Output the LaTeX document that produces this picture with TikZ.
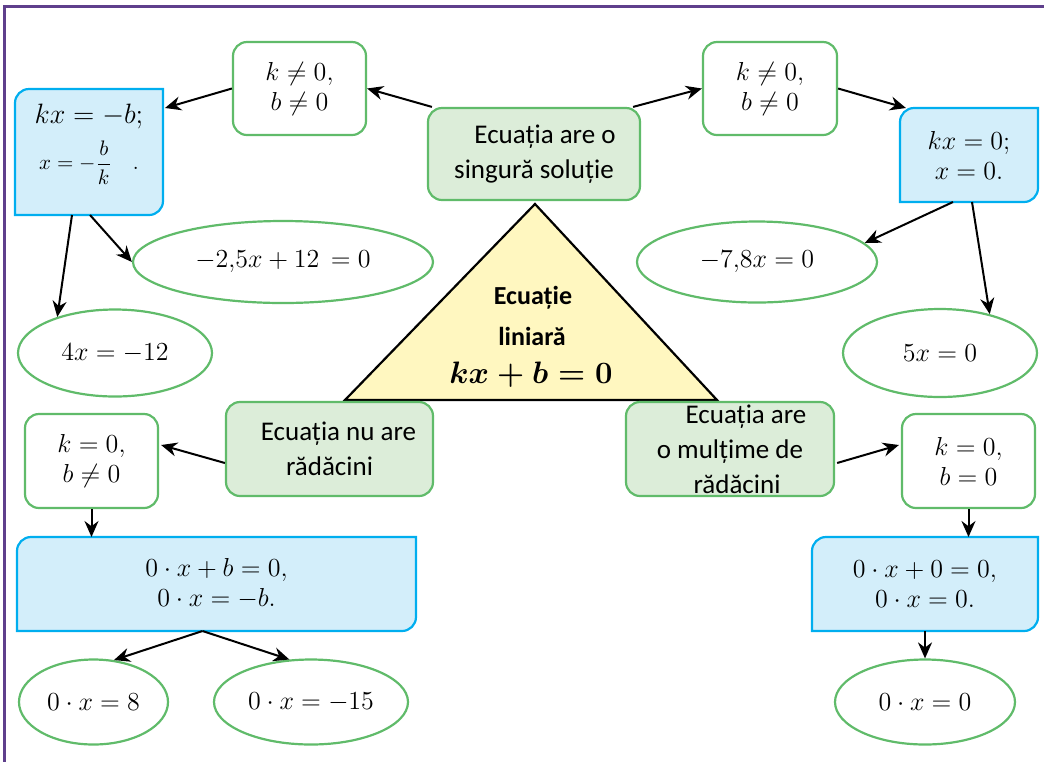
\RequirePackage{fix-cm}
\documentclass[tikz,border=0pt]{standalone}
\usepackage{amsmath}
\usepackage{fontspec}
\newfontfamily\carl{Carlito}
\usetikzlibrary{shapes.geometric,arrows.meta,calc,backgrounds}
\definecolor{gborder}{RGB}{96,187,106}
\definecolor{gfill}{RGB}{220,237,217}
\definecolor{bborder}{RGB}{0,174,239}
\definecolor{bfill}{RGB}{211,238,250}
\definecolor{tfill}{RGB}{255,247,192}
\definecolor{framecol}{RGB}{95,63,140}
% blue box: top-left and bottom-right corners rounded
\newcommand{\halfbox}[1]{%
  \draw[bluebox] ($(#1.north west)+(0,-7pt)$) arc[start angle=180,end angle=90,radius=7pt]
    -- (#1.north east) -- ($(#1.south east)+(0,7pt)$) arc[start angle=0,end angle=-90,radius=7pt]
    -- (#1.south west) -- cycle;}

\begin{document}
\begin{tikzpicture}[x=0.5pt,y=-0.5pt,
    every node/.style={font=\fontsize{13}{15}\selectfont, align=center},
    whitebox/.style={draw=gborder, line width=1.1pt, rounded corners=7pt, fill=white, inner sep=0pt},
    greenbox/.style={whitebox, fill=gfill, font=\carl\fontsize{13.5}{17.5}\selectfont},
    oval/.style={ellipse, draw=gborder, line width=1.1pt, inner sep=0pt},
    bluebox/.style={draw=bborder, fill=bfill, line width=1.1pt},
    boxarea/.style={inner sep=0pt, outer sep=0pt},
    arr/.style={-{Stealth[length=8pt,width=7pt]}, line width=1pt}]
    \useasboundingbox (0,0) rectangle (1044,762);
    \draw[framecol, line width=1.5pt] (1044,6) -- (4,6) -- (4,762);

    % central triangle
    \coordinate (apex) at (535,204);
    \coordinate (base-l) at (345,400);
    \coordinate (base-r) at (717,400);
    \draw[fill=tfill, line width=1.1pt, line join=miter] (apex) -- (base-l) -- (base-r) -- cycle;
    \node[anchor=base, font=\carl\bfseries\fontsize{13}{15}\selectfont] (tri1) at (533,304) {Ecuație};
    \node[anchor=base, font=\carl\bfseries\fontsize{13}{15}\selectfont] (tri2) at (532,345) {liniară};
    \node[anchor=base, font=\fontsize{15.5}{18}\selectfont] (tri3) at (531,383) {$\boldsymbol{kx+b=0}$};

    % green boxes
    \node[greenbox, minimum width=106pt, minimum height=46pt] (sol) at (534,154) {\hspace*{11pt}Ecuația are o\\ singură soluție};
    \node[greenbox, minimum width=103.5pt, minimum height=47pt] (nr) at (329.5,449) {\hspace*{9pt}Ecuația nu are\\ rădăcini};
    \node[greenbox, minimum width=104pt, minimum height=47pt] (mr) at (730,449) {\hspace*{16pt}Ecuația are\\ o mulțime de\\ \hspace*{7pt}rădăcini};

    % white boxes
    \node[whitebox, minimum width=66.5pt, minimum height=46.5pt] (kb1) at (299.5,88.5) {$k \neq 0,$\\ $b \neq 0$};
    \node[whitebox, minimum width=67pt, minimum height=46.5pt] (kb2) at (770,88.5) {$k \neq 0,$\\ $b \neq 0$};
    \node[whitebox, minimum width=66.5pt, minimum height=47pt] (k0a) at (91.5,461) {$k = 0,$\\ $b \neq 0$};
    \node[whitebox, minimum width=66.5pt, minimum height=47pt] (k0b) at (968.5,461) {$k = 0,$\\ $b = 0$};

    % blue boxes
    \node[boxarea, minimum width=74pt, minimum height=63pt] (lb) at (89,152)
        {\fontsize{14}{16}\selectfont$kx = -b;$\\[5pt] \fontsize{10.5}{12}\selectfont$x = -\dfrac{b}{k}\ \ \ .$\\[0pt] \mbox{}};
    \node[boxarea, minimum width=69pt, minimum height=47pt] (rb) at (969,155) {$kx = 0;$\\ $x = 0.$};
    \node[boxarea, minimum width=199.5pt, minimum height=47pt] (bz) at (216.5,584) {$0\cdot x + b = 0,$\\ $0\cdot x = -b.$};
    \node[boxarea, minimum width=113pt, minimum height=47pt] (bz2) at (925,584) {$0\cdot x + 0 = 0,$\\ $0\cdot x = 0.$};
    \begin{scope}[on background layer]
        \halfbox{lb}
        \halfbox{rb}
        \halfbox{bz}
        \halfbox{bz2}
    \end{scope}

    % ellipses
    \node[oval, minimum width=150pt, minimum height=41pt] (e25) at (283,262) {$-2{,}5x + 12\, = 0$};
    \node[oval, minimum width=97pt, minimum height=43.5pt] (e4) at (115,353) {$4x = -12$};
    \node[oval, minimum width=120pt, minimum height=40.5pt] (e78) at (757,262) {$-7{,}8x = 0$};
    \node[oval, minimum width=97pt, minimum height=44pt] (e5) at (940,353) {$5x = 0$};
    \node[oval, minimum width=74.5pt, minimum height=42.5pt] (e8) at (93.5,702) {$0\cdot x = 8$};
    \node[oval, minimum width=97pt, minimum height=42.5pt] (e15) at (311,702) {$0\cdot x = -15$};
    \node[oval, minimum width=90pt, minimum height=42.5pt] (e0) at (925,702) {$0\cdot x = 0$};

    % arrows
    \draw[arr] ($(sol.north west)+(5,0)$) -- (kb1.east);
    \draw[arr] (kb1.west) -- ($(lb.north east)+(2,19)$);
    \draw[arr] ($(sol.north east)+(-8,0)$) -- (kb2.west);
    \draw[arr] (kb2.east) -- ($(rb.north west)+(6,0)$);
    \draw[arr] ($(lb.south)+(-17,0)$) -- (e4.148);
    \draw[arr] ($(lb.south)+(1,0)$) -- (e25.west);
    \draw[arr] ($(rb.south)+(-16,0)$) -- (e78.10);
    \draw[arr] ($(rb.south)+(3,0)$) -- (e5.38);
    \draw[arr] ($(nr.west)+(0,14)$) -- ($(k0a.east)+(2,-16)$);
    \draw[arr] (k0a.south) -- (k0a.south |- bz.north);
    \draw[arr] ($(bz.south)+(-14,0)$) -- (e8.64);
    \draw[arr] ($(bz.south)+(-14,0)$) -- (e15.117);
    \draw[arr] ($(mr.east)+(2,14)$) -- ($(k0b.west)+(-2,-16)$);
    \draw[arr] (k0b.south) -- (k0b.south |- bz2.north);
    \draw[arr] (bz2.south) -- (e0.north);
\end{tikzpicture}
\end{document}
